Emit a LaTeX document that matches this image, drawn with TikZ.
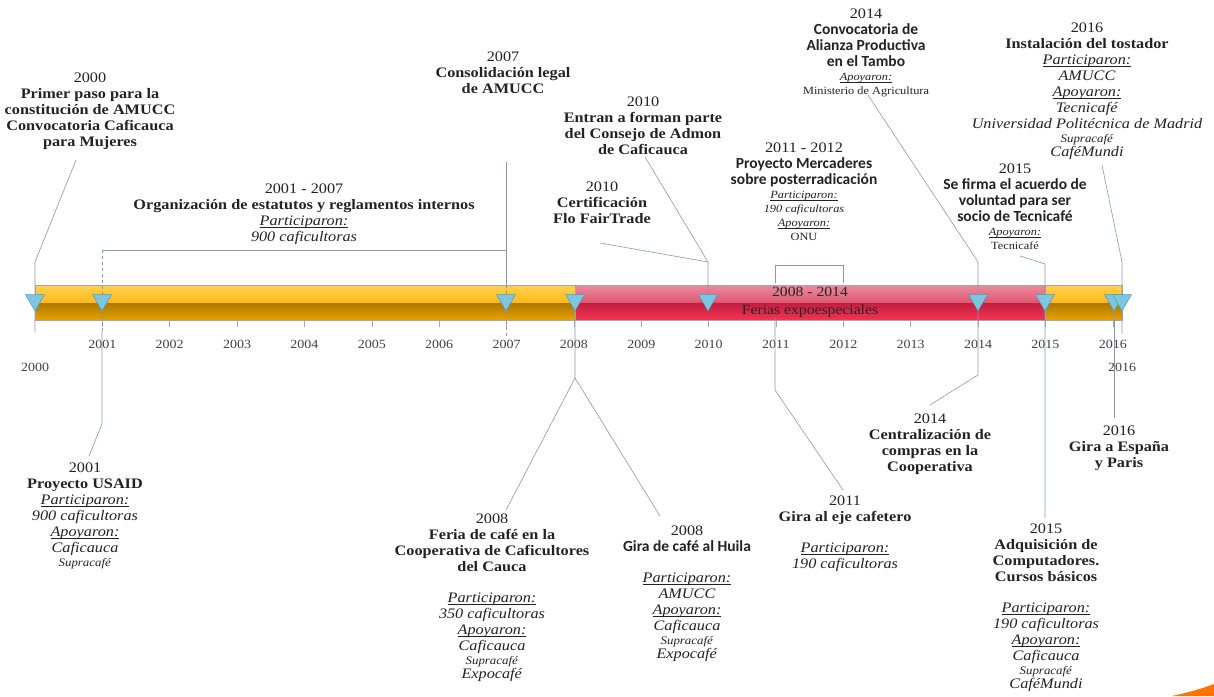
\documentclass[tikz,border=0pt]{standalone}
\usepackage{fontspec}
\setmainfont{Liberation Serif}[FakeStretch=1.12]
\newfontfamily\calfont{Carlito}
\usetikzlibrary{shapes.geometric}
\definecolor{linec}{HTML}{8C96B0}
\definecolor{trifill}{HTML}{7CC6E0}
\definecolor{triedge}{HTML}{4A9CC0}
\definecolor{oa}{HTML}{FFD250}
\definecolor{ob}{HTML}{FFB818}
\definecolor{oc}{HTML}{AE7800}
\definecolor{od}{HTML}{E6A200}
\definecolor{ra}{HTML}{EC8C9E}
\definecolor{rb}{HTML}{DE5670}
\definecolor{rc}{HTML}{C41E3E}
\definecolor{rd}{HTML}{F23452}
\definecolor{txtc}{HTML}{222222}
\newsavebox\undbox
\newcommand\bfl[1]{\textbf{#1}}
\newcommand\cbf[1]{{\calfont\bfseries\fontsize{15.5}{16}\selectfont #1}}
\newcommand\und[1]{\sbox\undbox{\textit{#1}}\rlap{\rule[-2.2pt]{\wd\undbox}{0.6pt}}\usebox\undbox}
\newcommand\smf{\fontsize{11}{14}\selectfont}
\newcommand\tnf{\fontsize{11.5}{14}\selectfont}
\tikzset{
  txt/.style={align=center, anchor=north, inner sep=0pt, text=txtc, font=\fontsize{14.5}{16}\selectfont},
  yr/.style={inner sep=0pt, text=black!75, font=\fontsize{12.5}{15}\selectfont},
  conn/.style={draw=linec, line width=0.6pt},
  tri/.style={regular polygon, regular polygon sides=3, shape border rotate=180, minimum size=22pt, fill=trifill, draw=triedge, line width=0.5pt, inner sep=0pt},
}
\begin{document}
\begin{tikzpicture}[x=1pt,y=-1pt]
\useasboundingbox (0,0) rectangle (1214,696);
% bar
\shade[top color=oa, bottom color=ob] (35,285) rectangle (575,303);
\shade[top color=oc, bottom color=od] (35,303) rectangle (575,320);
\shade[top color=ra, bottom color=rb] (575,285) rectangle (1045,303);
\shade[top color=rc, bottom color=rd] (575,303) rectangle (1045,320);
\shade[top color=oa, bottom color=ob] (1045,285) rectangle (1122,303);
\shade[top color=oc, bottom color=od] (1045,303) rectangle (1122,320);
\draw[gray!70, line width=0.5pt] (35,285) rectangle (1122,320);
\draw[gray!70, line width=0.5pt] (575,285) -- (575,320) (1045,285) -- (1045,320);
\node[align=center, inner sep=0pt, text=black!85, font=\fontsize{14}{18}\selectfont] (ferias) at (810,302) {2008 - 2014\\Ferias expoespeciales};
% ticks and years
\foreach \i in {1,...,16} {
  \draw[gray!70, line width=0.5pt] ({35+67.36*\i},320) -- ++(0,7);
  \pgfmathtruncatemacro\yy{2000+\i}
  \node[yr] (y\i) at ({35+67.36*\i},344) {\yy};
}
\node[yr] (y0) at (35,367) {2000};
\node[yr] (y16b) at (1122,367) {2016};

% connectors
\coordinate (c2000a) at (76,160);
\coordinate (c2000b) at (35,262);
\coordinate (c2000c) at (35,332);
\draw[conn] (c2000a) -- (c2000b) -- (c2000c);

\coordinate (b01) at (102,250);
\coordinate (b07) at (506,250);
\coordinate (b01c) at (102,330);
\coordinate (b01d) at (102,424);
\coordinate (b01e) at (89,456);
\draw[conn] (b01) -- (b07);
\draw[conn, dashed] (b01) -- (b01c);
\draw[conn] (b01c) -- (b01d) -- (b01e);
\coordinate (c07a) at (506,162);
\coordinate (c07b) at (506,285);
\coordinate (c07c) at (506,338);
\draw[conn] (c07a) -- (c07b);
\draw[conn, dashed] (c07b) -- (c07c);

\coordinate (c08a) at (575,300);
\coordinate (c08b) at (575,378);
\coordinate (c08c) at (506,510);
\coordinate (c08d) at (660,516);
\draw[conn] (c08a) -- (c08b) -- (c08c);
\draw[conn] (c08b) -- (c08d);

\coordinate (c10a) at (645,157);
\coordinate (c10b) at (708,262);
\coordinate (c10c) at (708,300);
\coordinate (c10d) at (600,243);
\draw[conn] (c10a) -- (c10b) -- (c10c);
\draw[conn] (c10d) -- (c10b);

\coordinate (c11a) at (775,283);
\coordinate (c11b) at (775,265);
\coordinate (c12b) at (843,265);
\coordinate (c12a) at (843,283);
\draw[conn] (c11a) -- (c11b) -- (c12b) -- (c12a);
\coordinate (c11c) at (775,318);
\coordinate (c11d) at (775,390);
\coordinate (c11e) at (843,490);
\draw[conn] (c11c) -- (c11d) -- (c11e);

\coordinate (c14a) at (868,95);
\coordinate (c14b) at (978,262);
\coordinate (c14c) at (978,300);
\draw[conn] (c14a) -- (c14b) -- (c14c);
\coordinate (c14d) at (978,375);
\coordinate (c14e) at (930,405);
\draw[conn] (c14c) -- (c14d) -- (c14e);

\coordinate (c15a) at (1020,256);
\coordinate (c15b) at (1045,264);
\coordinate (c15c) at (1045,518);
\draw[conn] (c15a) -- (c15b) -- (c15c);

\coordinate (c16a) at (1102,165);
\coordinate (c16b) at (1122,262);
\coordinate (c16c) at (1122,334);
\draw[conn] (c16a) -- (c16b) -- (c16c);
\coordinate (c16d) at (1114,300);
\coordinate (c16e) at (1114,418);
\draw[conn] (c16d) -- (c16e);

% markers
\node[tri] (m00) at (35,300) {};
\node[tri] (m01) at (102,300) {};
\node[tri] (m07) at (506,300) {};
\node[tri] (m08) at (575,300) {};
\node[tri] (m10) at (708,300) {};
\node[tri] (m14) at (978,300) {};
\node[tri] (m15) at (1045,300) {};
\node[tri] (m16a) at (1114,300) {};
\node[tri] (m16b) at (1122,300) {};

% text blocks above
\node[txt] (t2000) at (90,73) {2000\\\bfl{Primer paso para la}\\\bfl{constitución de AMUCC}\\\bfl{Convocatoria Caficauca}\\\bfl{para Mujeres}};
\node[txt] (t0107) at (304,184) {2001 - 2007\\\bfl{Organización de estatutos y reglamentos internos}\\\und{Participaron:}\\\textit{900 caficultoras}};
\node[txt] (t2007) at (503,52) {2007\\\bfl{Consolidación legal}\\\bfl{de AMUCC}};
\node[txt] (t2010a) at (643,97) {2010\\\bfl{Entran a forman parte}\\\bfl{del Consejo de Admon}\\\bfl{de Caficauca}};
\node[txt] (t2010b) at (602,182) {2010\\\bfl{Certificación}\\\bfl{Flo FairTrade}};
\node[txt] (t1112) at (804,143) {2011 - 2012\\\cbf{Proyecto Mercaderes}\\\cbf{sobre posterradicación}\\[-2pt]{\smf\und{Participaron:}}\\[-2pt]{\smf\textit{190 caficultoras}}\\[-2pt]{\smf\und{Apoyaron:}}\\[-2pt]{\smf ONU}};
\node[txt] (t2014a) at (866,9) {2014\\\cbf{Convocatoria de}\\\cbf{Alianza Productiva}\\\cbf{en el Tambo}\\[-2pt]{\smf\und{Apoyaron:}}\\[-2pt]{\smf Ministerio de Agricultura}};
\node[txt] (t2016a) at (1087,23) {2016\\\bfl{Instalación del tostador}\\\und{Participaron:}\\\textit{AMUCC}\\\und{Apoyaron:}\\\textit{Tecnicafé}\\\textit{Universidad Politécnica de Madrid}\\[-2pt]{\tnf\textit{Supracafé}}\\[-2pt]\textit{CaféMundi}};
\node[txt] (t2015a) at (1015,164) {2015\\\cbf{Se firma el acuerdo de}\\\cbf{voluntad para ser}\\\cbf{socio de Tecnicafé}\\[-2pt]{\smf\und{Apoyaron:}}\\[-2pt]{\smf Tecnicafé}};

% text blocks below
\node[txt] (t2001) at (85,463) {2001\\\bfl{Proyecto USAID}\\\und{Participaron:}\\\textit{900 caficultoras}\\\und{Apoyaron:}\\\textit{Caficauca}\\[-2pt]{\tnf\textit{Supracafé}}};
\node[txt] (t2008a) at (492,514) {2008\\\bfl{Feria de café en la}\\\bfl{Cooperativa de Caficultores}\\\bfl{del Cauca}\\[15pt]\und{Participaron:}\\\textit{350 caficultoras}\\\und{Apoyaron:}\\\textit{Caficauca}\\[-2pt]{\tnf\textit{Supracafé}}\\[-2pt]\textit{Expocafé}};
\node[txt] (t2008b) at (687,526) {2008\\\cbf{Gira de café al Huila}\\[15pt]\und{Participaron:}\\\textit{AMUCC}\\\und{Apoyaron:}\\\textit{Caficauca}\\[-2pt]{\tnf\textit{Supracafé}}\\[-2pt]\textit{Expocafé}};
\node[txt] (t2011) at (845,496) {2011\\\bfl{Gira al eje cafetero}\\[15pt]\und{Participaron:}\\\textit{190 caficultoras}};
\node[txt] (t2014b) at (930,414) {2014\\\bfl{Centralización de}\\\bfl{compras en la}\\\bfl{Cooperativa}};
\node[txt] (t2016b) at (1119,426) {2016\\\bfl{Gira a España}\\\bfl{y Paris}};
\node[txt] (t2015b) at (1046,524) {2015\\\bfl{Adquisición de}\\\bfl{Computadores.}\\\bfl{Cursos básicos}\\[15pt]\und{Participaron:}\\\textit{190 caficultoras}\\\und{Apoyaron:}\\\textit{Caficauca}\\[-2pt]{\tnf\textit{Supracafé}}\\[-2pt]\textit{CaféMundi}};

% corner swoosh
\fill[orange!90!red] (1172,696) .. controls (1190,692) and (1204,688) .. (1214,684) -- (1214,696) -- cycle;
\end{tikzpicture}
\end{document}
